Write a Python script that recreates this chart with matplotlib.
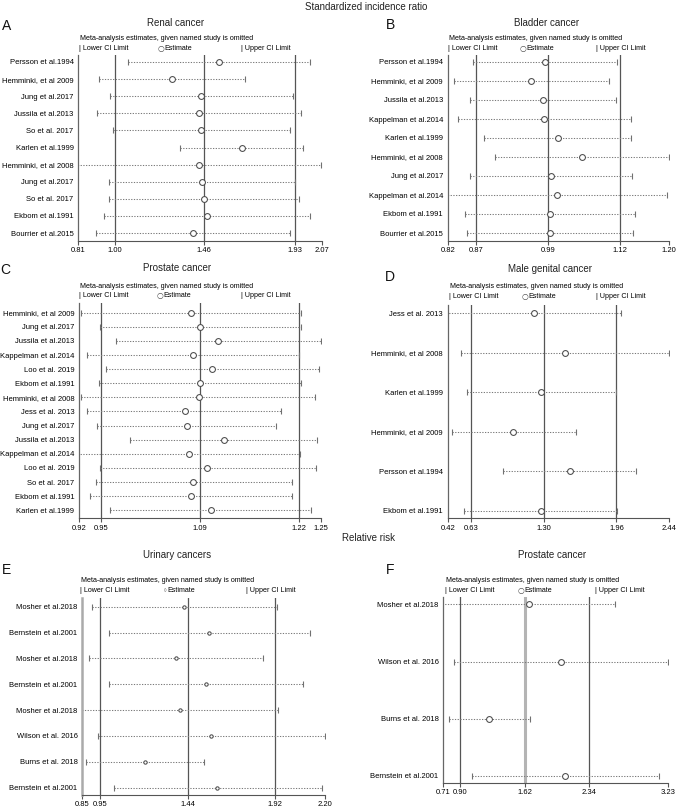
import matplotlib
matplotlib.use('Agg')
import matplotlib.pyplot as plt
from matplotlib import font_manager

W, H = 677, 807
fig = plt.figure(figsize=(W / 100, H / 100), dpi=100)

names = {f.name for f in font_manager.fontManager.ttflist}
NARROW = 'Liberation Sans Narrow' if 'Liberation Sans Narrow' in names else 'Liberation Sans'
REG = ['Liberation Sans', 'DejaVu Sans']
# sizes: narrow face can be bigger for the same width
LAB = 6.3 if NARROW == 'Liberation Sans Narrow' else 5.5
HDR = 6.2 if NARROW == 'Liberation Sans Narrow' else 5.1
INK = '#000000'

# ---- data: leave-one-out estimates (estimate, lower, upper) ----
renal_studies = ['Persson et al.1994', 'Hemminki, et al 2009', 'Jung et al.2017', 'Jussila et al.2013',
                 'So et al. 2017', 'Karlen et al.1999', 'Hemminki, et al 2008', 'Jung et al.2017',
                 'So et al. 2017', 'Ekbom et al.1991', 'Bourrier et al.2015']
renal_est = [1.535, 1.295, 1.445, 1.433, 1.445, 1.657, 1.436, 1.450, 1.459, 1.476, 1.404]
renal_low = [1.065, 0.917, 0.973, 0.905, 0.987, 1.338, 0.780, 0.970, 0.970, 0.944, 0.901]
renal_up = [2.008, 1.674, 1.918, 1.961, 1.906, 1.972, 2.065, 1.932, 1.949, 2.008, 1.906]
renal_ticks = [0.81, 1.00, 1.46, 1.93, 2.07]
renal_ticklabels = ['0.81', '1.00', '1.46', '1.93', '2.07']

bladder_studies = ['Persson et al.1994', 'Hemminki, et al 2009', 'Jussila et al.2013', 'Kappelman et al.2014',
                   'Karlen et al.1999', 'Hemminki, et al 2008', 'Jung et al.2017', 'Kappelman et al.2014',
                   'Ekbom et al.1991', 'Bourrier et al.2015']
bladder_est = [0.987, 0.963, 0.984, 0.986, 1.009, 1.051, 0.997, 1.008, 0.996, 0.996]
bladder_low = [0.863, 0.830, 0.858, 0.838, 0.882, 0.901, 0.858, 0.810, 0.850, 0.853]
bladder_up = [1.111, 1.097, 1.109, 1.135, 1.135, 1.200, 1.137, 1.196, 1.142, 1.138]
bladder_ticks = [0.82, 0.868, 0.992, 1.116, 1.20]
bladder_ticklabels = ['0.82', '0.87', '0.99', '1.12', '1.20']

prostate_studies = ['Hemminki, et al 2009', 'Jung et al.2017', 'Jussila et al.2013', 'Kappelman et al.2014',
                    'Loo et al. 2019', 'Ekbom et al.1991', 'Hemminki, et al 2008', 'Jess et al. 2013',
                    'Jung et al.2017', 'Jussila et al.2013', 'Kappelman et al.2014', 'Loo et al. 2019',
                    'So et al. 2017', 'Ekbom et al.1991', 'Karlen et al.1999']
prostate_est = [1.073, 1.085, 1.110, 1.076, 1.102, 1.085, 1.083, 1.064, 1.067, 1.118, 1.070, 1.095,
                1.076, 1.073, 1.100]
prostate_low = [0.923, 0.948, 0.971, 0.931, 0.957, 0.947, 0.923, 0.931, 0.945, 0.990, 0.910, 0.949,
                0.943, 0.935, 0.962]
prostate_up = [1.223, 1.223, 1.250, 1.220, 1.247, 1.223, 1.242, 1.195, 1.188, 1.245, 1.221, 1.243,
               1.210, 1.211, 1.237]
prostate_ticks = [0.92, 0.95, 1.085, 1.22, 1.25]
prostate_ticklabels = ['0.92', '0.95', '1.09', '1.22', '1.25']

genital_studies = ['Jess et al. 2013', 'Hemminki, et al 2008', 'Karlen et al.1999',
                   'Hemminki, et al 2009', 'Persson et al.1994', 'Ekbom et al.1991']
genital_est = [1.211, 1.491, 1.275, 1.019, 1.533, 1.272]
genital_low = [0.400, 0.545, 0.596, 0.457, 0.925, 0.566]
genital_up = [2.002, 2.440, 1.959, 1.588, 2.142, 1.968]
genital_ticks = [0.42, 0.635, 1.30, 1.96, 2.44]
genital_ticklabels = ['0.42', '0.63', '1.30', '1.96', '2.44']

urinary_studies = ['Mosher et al.2018', 'Bernstein et al.2001', 'Mosher et al.2018', 'Bernstein et al.2001',
                   'Mosher et al.2018', 'Wilson et al. 2016', 'Burns et al. 2018', 'Bernstein et al.2001']
urinary_est = [1.417, 1.553, 1.371, 1.538, 1.391, 1.568, 1.199, 1.601]
urinary_low = [0.902, 0.996, 0.885, 0.996, 0.830, 0.935, 0.872, 1.024]
urinary_up = [1.935, 2.115, 1.853, 2.079, 1.940, 2.202, 1.527, 2.185]
urinary_ticks = [0.85, 0.95, 1.44, 1.92, 2.20]
urinary_ticklabels = ['0.85', '0.95', '1.44', '1.92', '2.20']

rr_prostate_studies = ['Mosher et al.2018', 'Wilson et al. 2016', 'Burns et al. 2018', 'Bernstein et al.2001']
rr_prostate_est = [1.673, 2.024, 1.225, 2.076]
rr_prostate_low = [0.690, 0.826, 0.773, 1.035]
rr_prostate_up = [2.636, 3.230, 1.681, 3.125]
rr_prostate_ticks = [0.71, 0.90, 1.62, 2.34, 3.23]
rr_prostate_ticklabels = ['0.71', '0.90', '1.62', '2.34', '3.23']


def ftext(x, y, s, **kw):
    # place text by pixel position (y from top)
    fig.text(x / W, 1 - y / H, s, **kw)


def panel(box, rows, studies, est, low, up, ticks, ticklabels, ms=4.2, capms=3.8,
          mid_light=False, spine_light=False):
    left, right, top, bottom = box
    row0, rowN = rows
    n = len(studies)
    ax = fig.add_axes([left / W, 1 - bottom / H, (right - left) / W, (bottom - top) / H])
    step = (rowN - row0) / (n - 1)
    ax.set_ylim(n - 1 + (bottom - rowN) / step, -(row0 - top) / step)
    ax.set_xlim(ticks[0], ticks[-1])
    y = list(range(n))

    for i, v in enumerate(ticks[1:4]):
        if mid_light and i == 1:
            ax.axvline(v, color='#b4b4b4', lw=2.2, zorder=1)
        else:
            ax.axvline(v, color='#555555', lw=0.9, zorder=1)

    ax.hlines(y, low, up, colors='#7a7a7a', linestyles=(0, (1.2, 1.4)), lw=0.75, zorder=2)
    ax.plot(low, y, ls='none', marker='|', ms=capms, mew=0.8, color='#707070', zorder=2)
    ax.plot(up, y, ls='none', marker='|', ms=capms, mew=0.8, color='#707070', zorder=2)
    ax.plot(est, y, ls='none', marker='o', ms=ms, mfc='white', mec='#4a4a4a', mew=0.75, zorder=3)

    ax.set_yticks(y)
    ax.set_yticklabels(studies, fontsize=LAB, family=NARROW, color=INK)
    ax.tick_params(axis='y', length=0, pad=3.4)
    ax.set_xticks(ticks)
    ax.set_xticklabels(ticklabels, fontsize=LAB, family=NARROW, color=INK)
    ax.tick_params(axis='x', length=3, width=0.8, color='#555555', pad=1.5)

    for s in ['top', 'right']:
        ax.spines[s].set_visible(False)
    ax.spines['bottom'].set_color('#555555')
    ax.spines['bottom'].set_linewidth(0.8)
    if spine_light:
        ax.spines['left'].set_color('#aaaaaa')
        ax.spines['left'].set_linewidth(1.8)
    else:
        ax.spines['left'].set_color('#666666')
        ax.spines['left'].set_linewidth(0.9)
    ax.set_facecolor('none')
    return ax


def header(x, y, est_x, up_x, small=False):
    ftext(x, y, 'Meta-analysis estimates, given named study is omitted', fontsize=HDR,
          family=NARROW, color=INK, va='center')
    ftext(x - 1, y + 10, '| Lower CI Limit', fontsize=HDR, family=NARROW, color=INK, va='center')
    circ = '\u25e6' if small else '\u25cb'
    ftext(est_x, y + 10, circ, fontsize=HDR + 0.5, family=['DejaVu Sans'], color='#444444', va='center')
    ftext(est_x + (4 if small else 6), y + 10, 'Estimate', fontsize=HDR, family=NARROW,
          color=INK, va='center')
    ftext(up_x, y + 10, '| Upper CI Limit', fontsize=HDR, family=NARROW, color=INK, va='center')


# section titles
ftext(366, 7, 'Standardized incidence ratio', fontsize=7, family=REG, color='#222222',
      ha='center', va='center')
ftext(342, 538, 'Relative risk', fontsize=7, family=REG, color='#222222', va='center')

# panel letters and titles
for lx, ly, let in [(2, 26, 'A'), (386, 25, 'B'), (0, 270, 'C'), (385, 277, 'D'), (2, 570, 'E'), (386, 570, 'F')]:
    ftext(lx, ly, let, fontsize=10, family=REG, color='#111111', va='center')
for tx, ty, t in [(176, 23, 'Renal cancer'), (547, 23, 'Bladder cancer'), (177, 268, 'Prostate cancer'),
                  (550, 269, 'Male genital cancer'), (177, 555, 'Urinary cancers'),
                  (552, 555, 'Prostate cancer')]:
    ftext(tx, ty, t, fontsize=7, family=REG, color='#222222', ha='center', va='center')

header(80, 38, 158, 241)
header(449, 38, 520, 596)
header(80, 286, 157, 241)
header(450, 287, 522, 596)
header(81, 581, 163, 246, small=True)
header(446, 580, 518, 595)

panel((78.3, 322, 55, 241), (62, 233), renal_studies, renal_est, renal_low, renal_up,
      renal_ticks, renal_ticklabels)
panel((447.7, 669, 55, 241), (62, 233), bladder_studies, bladder_est, bladder_low, bladder_up,
      bladder_ticks, bladder_ticklabels)
panel((79, 321, 303, 518.3), (312.7, 510.3), prostate_studies, prostate_est, prostate_low, prostate_up,
      prostate_ticks, prostate_ticklabels)
panel((447.7, 669, 305, 518.3), (313.3, 510.7), genital_studies, genital_est, genital_low, genital_up,
      genital_ticks, genital_ticklabels)
panel((82.3, 325, 598, 795), (606.7, 787.7), urinary_studies, urinary_est, urinary_low, urinary_up,
      urinary_ticks, urinary_ticklabels, ms=2.4, capms=4.5, spine_light=True)
panel((443.3, 668.3, 597, 782.7), (604.3, 776), rr_prostate_studies, rr_prostate_est, rr_prostate_low,
      rr_prostate_up, rr_prostate_ticks, rr_prostate_ticklabels, mid_light=True)

fig.savefig('out.png', dpi=100, facecolor='white')
